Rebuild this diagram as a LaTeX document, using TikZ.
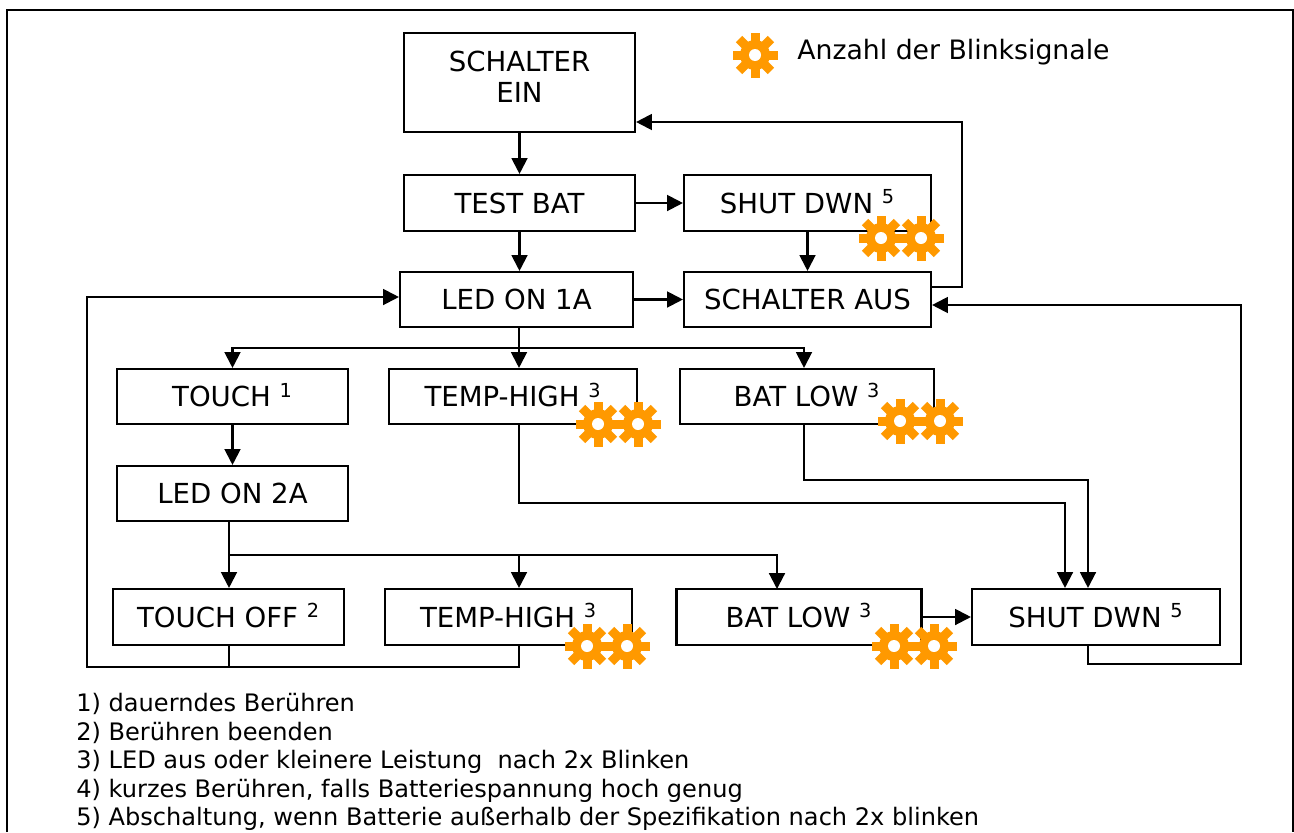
\documentclass[tikz,border=0pt]{standalone}
\usepackage{fontspec}
\setmainfont{DejaVu Sans}
\usetikzlibrary{arrows.meta}
\definecolor{blinkorange}{HTML}{FF9900}
\newcommand{\fn}[1]{\ \smash{\textsuperscript{#1}}}
\tikzset{
  statebox/.style={draw, line width=1.2pt, inner sep=0pt, align=center, font=\fontsize{15.7}{17.6}\selectfont},
  flow/.style={->, line width=1.2pt},
  plainline/.style={line width=1.2pt},
  blinkgear/.pic={
    \foreach \a in {0,45,90,135} {
      \fill[blinkorange, rotate=\a] (-4.5,-22.5) rectangle (4.5,22.5);
    }
    \fill[blinkorange] (0,0) circle[radius=15];
    \fill[white] (0,0) circle[radius=6];
  }
}
\begin{document}
\begin{tikzpicture}[>={Triangle[length=9pt,width=9pt]}, x=0.02cm, y=-0.02cm]
  \useasboundingbox (0,0) rectangle (1294,832);
  \draw[line width=1.7pt] (7,832) -- (7,10) -- (1293,10) -- (1293,832);

  % boxes
  \node[statebox, minimum width=231*0.02cm, minimum height=99*0.02cm] (ein) at (519.5,82.5) {SCHALTER\\EIN\\[-10.8pt]\mbox{}};
  \node[statebox, minimum width=231*0.02cm, minimum height=56*0.02cm] (testbat) at (519.5,203) {TEST BAT};
  \node[statebox, minimum width=247*0.02cm, minimum height=56*0.02cm] (shuta) at (807.5,203) {SHUT DWN\fn{5}};
  \node[statebox, minimum width=233*0.02cm, minimum height=55*0.02cm] (ledone) at (516.5,299.5) {LED ON 1A};
  \node[statebox, minimum width=247*0.02cm, minimum height=55*0.02cm] (aus) at (807.5,299.5) {SCHALTER AUS};
  \node[statebox, minimum width=231*0.02cm, minimum height=55*0.02cm] (touch) at (232.5,396.5) {TOUCH\fn{1}};
  \node[statebox, minimum width=248*0.02cm, minimum height=55*0.02cm] (tempa) at (513,396.5) {TEMP-HIGH\fn{3}};
  \node[statebox, minimum width=254*0.02cm, minimum height=55*0.02cm] (bata) at (807,396.5) {BAT LOW\fn{3}};
  \node[statebox, minimum width=231*0.02cm, minimum height=55*0.02cm] (ledtwo) at (232.5,493.5) {LED ON 2A};
  \node[statebox, minimum width=231*0.02cm, minimum height=56*0.02cm] (touchoff) at (228.5,617) {TOUCH OFF\fn{2}};
  \node[statebox, minimum width=247*0.02cm, minimum height=56*0.02cm] (tempb) at (508.5,617) {TEMP-HIGH\fn{3}};
  \node[statebox, minimum width=245*0.02cm, minimum height=56*0.02cm] (batb) at (799,617) {BAT LOW\fn{3}};
  \node[statebox, minimum width=248*0.02cm, minimum height=56*0.02cm] (shutb) at (1096,617) {SHUT DWN\fn{5}};

  % routing points
  \coordinate (split) at (519,348);
  \coordinate (splittwo) at (229,555);
  \coordinate (tempturn) at (519,503);
  \coordinate (batturn) at (804,480);
  \coordinate (tempin) at (1065,503);
  \coordinate (batin) at (1088,480);
  \coordinate (touchout) at (229,645);
  \coordinate (tempout) at (519,645);
  \coordinate (batbin) at (777,589);
  \coordinate (backleft) at (87,667);
  \coordinate (backin) at (87,297);
  \coordinate (shutout) at (1088,664);
  \coordinate (rightup) at (1241,664);
  \coordinate (rightin) at (1241,305);
  \coordinate (ausout) at (962,287);
  \coordinate (einin) at (962,122);

  % connectors
  \draw[flow] (ein.south) -- (testbat.north);
  \draw[flow] (testbat.south) -- (testbat.south |- ledone.north);
  \draw[flow] (testbat.east) -- (shuta.west);
  \draw[flow] (shuta.south) -- (aus.north);
  \draw[flow] (ledone.east) -- (aus.west);
  \draw[flow] (ausout -| aus.east) -- (ausout) -- (einin) -- (einin -| ein.east);
  \draw[plainline] (split |- ledone.south) -- (split);
  \draw[flow] (split) -- (split |- tempa.north);
  \draw[flow] (split) -| (touch.north);
  \draw[flow] (split) -| (batturn |- bata.north);
  \draw[flow] (touch.south) -- (ledtwo.north);
  \draw[plainline] (splittwo |- ledtwo.south) -- (splittwo);
  \draw[flow] (splittwo) -- (splittwo |- touchoff.north);
  \draw[flow] (splittwo) -| (tempout |- tempb.north);
  \draw[flow] (splittwo) -| (batbin);
  \draw[flow] (tempturn |- tempa.south) -- (tempturn) -- (tempin) -- (tempin |- shutb.north);
  \draw[flow] (batturn |- bata.south) -- (batturn) -- (batin) -- (batin |- shutb.north);
  \draw[flow] (batb.east) -- (shutb.west);
  \draw[flow] (touchout) |- (backleft) -- (backin) -- (backin -| ledone.west);
  \draw[plainline] (tempout) |- (touchout |- backleft);
  \draw[flow] (shutout |- shutb.south) -- (shutout) -- (rightup) -- (rightin) -- (rightin -| aus.east);

  % blink signals
  \foreach \p in {(755,55),(881,238),(921,238),(598,424),(638,424),(900,421),(940,421),(587,646),(627,646),(894,646),(934,646)} {
    \pic at \p {blinkgear};
  }
  \node[anchor=west, inner sep=0pt, font=\fontsize{15.2}{17.6}\selectfont] (legend) at (797,52) {Anzahl der Blinksignale};

  % footnotes
  \node[anchor=north west, inner sep=0pt, align=left, font=\fontsize{13.7}{16.2}\selectfont] (notes) at (76,693) {1) dauerndes Berühren\\
    2) Berühren beenden\\
    3) LED aus oder kleinere Leistung\ \ nach 2x Blinken\\
    4) kurzes Berühren, falls Batteriespannung hoch genug\\
    5) Abschaltung, wenn Batterie außerhalb der Spezifikation nach 2x blinken};
\end{tikzpicture}
\end{document}
